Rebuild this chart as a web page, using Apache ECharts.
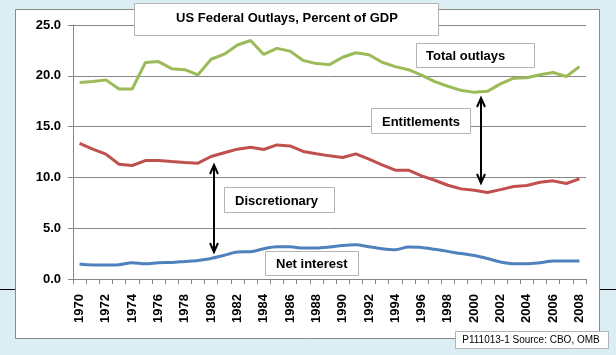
<!DOCTYPE html>
<html><head><meta charset="utf-8">
<script src="https://cdn.jsdelivr.net/npm/echarts@6/dist/echarts.min.js"></script>
<style>html,body{margin:0;padding:0;background:#dbeef4}#c{width:616px;height:355px}</style>
</head><body><div id="c"></div>
<script>
const years = ['1970','1971','1972','1973','1974','1975','1976','1977','1978','1979','1980','1981','1982','1983','1984','1985','1986','1987','1988','1989','1990','1991','1992','1993','1994','1995','1996','1997','1998','1999','2000','2001','2002','2003','2004','2005','2006','2007','2008'];
const totalOutlays = [19.34,19.44,19.6,18.7,18.7,21.3,21.4,20.7,20.6,20.1,21.63,22.13,23.03,23.47,22.1,22.7,22.43,21.5,21.2,21.1,21.83,22.27,22.07,21.33,20.9,20.6,20.07,19.43,18.97,18.57,18.37,18.47,19.2,19.77,19.8,20.1,20.33,19.93,20.9];
const discretionaryPlusInterest = [13.34,12.78,12.29,11.3,11.17,11.66,11.66,11.56,11.47,11.4,12.06,12.42,12.78,12.97,12.75,13.2,13.1,12.55,12.32,12.12,11.96,12.32,11.8,11.24,10.71,10.71,10.15,9.72,9.23,8.87,8.74,8.51,8.8,9.1,9.2,9.52,9.66,9.4,9.85];
const netInterest = [1.47,1.38,1.38,1.41,1.6,1.5,1.6,1.63,1.73,1.83,2.02,2.34,2.66,2.69,2.98,3.17,3.17,3.04,3.04,3.14,3.3,3.37,3.17,2.98,2.88,3.14,3.11,2.92,2.72,2.5,2.31,2.02,1.67,1.5,1.5,1.6,1.76,1.76,1.76];
const titleText = 'US Federal Outlays, Percent of GDP';
const labels = {total:'Total outlays', ent:'Entitlements', disc:'Discretionary', net:'Net interest'};
const sourceText = 'P111013-1 Source: CBO, OMB';

const FONT = '"Liberation Sans", Arial, sans-serif';
const chart = echarts.init(document.getElementById('c'), null, {renderer:'canvas'});

function box(x,y,w,h,text,opts){
  opts = opts||{};
  return [
    {type:'rect', z:50, shape:{x:x+0.5,y:y+0.5,width:w,height:h}, style:{fill:'#fff', stroke:'#b3b3b3', lineWidth:1}},
    {type:'text', z:51, x: opts.tx, y: opts.ty, style:{text:text, fill:'#000', font:(opts.font||('bold 13px '+FONT)), textAlign: opts.align||'left', textVerticalAlign:'middle'}}
  ];
}
function arrow(x,y1,y2){
  const hw=4, hl=9;
  return [
    {type:'line', z:60, shape:{x1:x,y1:y1+1,x2:x,y2:y2-1}, style:{stroke:'#000', lineWidth:2}},
    {type:'polyline', z:60, shape:{points:[[x-hw,y1+hl],[x,y1],[x+hw,y1+hl]]}, style:{stroke:'#000', lineWidth:2, fill:null}},
    {type:'polyline', z:60, shape:{points:[[x-hw,y2-hl],[x,y2],[x+hw,y2-hl]]}, style:{stroke:'#000', lineWidth:2, fill:null}}
  ];
}

const graphics = [
  {type:'rect', z:-100, shape:{x:15.5,y:9.5,width:584,height:329}, style:{fill:'#fff', stroke:'#898989', lineWidth:1}},
  {type:'line', z:-99, shape:{x1:0,y1:289.5,x2:15,y2:289.5}, style:{stroke:'#000', lineWidth:1}},
  {type:'line', z:-99, shape:{x1:600,y1:289.5,x2:616,y2:289.5}, style:{stroke:'#000', lineWidth:1}},
  ...box(134,3,304,32,titleText,{tx:287, ty:18, align:'center'}),
  ...box(416,43,118,24,labels.total,{tx:426, ty:56}),
  ...box(371,108,99,25,labels.ent,{tx:382, ty:122}),
  ...box(224,187,110,25,labels.disc,{tx:235, ty:201}),
  ...box(265,251,93,24,labels.net,{tx:276, ty:264}),
  ...box(455,331,153,17,sourceText,{tx:531, ty:340, align:'center', font:'10px '+FONT}),
  ...arrow(481,98,183),
  ...arrow(214,165,252)
];

const axisGrey = '#868686';
chart.setOption({
  backgroundColor:'#dbeef4',
  animation:false,
  grid:{left:73, right:30, top:25, bottom:76},
  xAxis:{
    type:'category', data:years, boundaryGap:true,
    axisLine:{lineStyle:{color:axisGrey, width:1}},
    axisTick:{show:true, interval:0, length:5, lineStyle:{color:axisGrey}},
    axisLabel:{interval:1, rotate:90, margin:15, color:'#000', fontWeight:'bold', fontSize:13, fontFamily:FONT}
  },
  yAxis:{
    type:'value', min:0, max:25, interval:5,
    axisLine:{show:true, lineStyle:{color:axisGrey, width:1}},
    axisTick:{show:true, length:5, lineStyle:{color:axisGrey}},
    splitLine:{lineStyle:{color:axisGrey, width:1}},
    axisLabel:{formatter:v=>v.toFixed(1), margin:12, color:'#000', fontWeight:'bold', fontSize:13, fontFamily:FONT}
  },
  series:[
    {name:'Total outlays', type:'line', data:totalOutlays, symbol:'none', lineStyle:{color:'#9bbb59', width:3}, z:5},
    {name:'Discretionary + net interest', type:'line', data:discretionaryPlusInterest, symbol:'none', lineStyle:{color:'#c0504d', width:3}, z:5},
    {name:'Net interest', type:'line', data:netInterest, symbol:'none', smooth:0.3, lineStyle:{color:'#4f81bd', width:3}, z:5}
  ],
  graphic:graphics
});
</script></body></html>
